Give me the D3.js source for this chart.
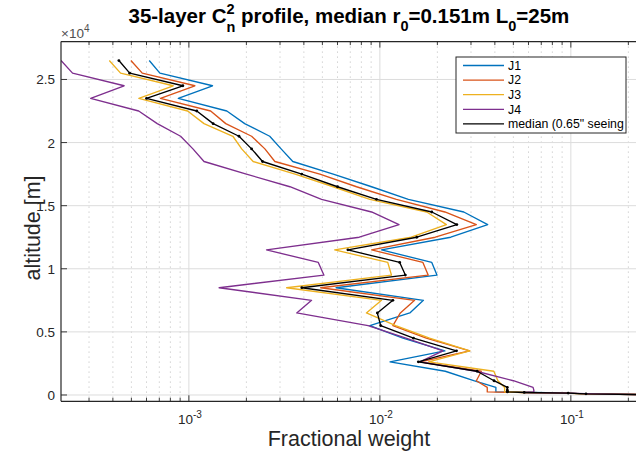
<!DOCTYPE html>
<html><head><meta charset="utf-8">
<script src="https://cdn.jsdelivr.net/npm/d3@7"></script>
<style>
body{margin:0;background:#fff}
svg{display:block}
text{font-family:"Liberation Sans",Arial,Helvetica,sans-serif;}
</style>
</head><body>
<svg id="chart" width="636" height="459"></svg>
<script>
// ---- data (altitude in m, fractional weight) ----
const altitudes = [30, 90, 150, 200, 245, 300, 390, 600, 1130, 1880, 2630, 3500, 4500, 5500, 6500, 7500, 8500, 9500, 10500, 11500, 12500, 13500, 14500, 15500, 16500, 17500, 18500, 19500, 20500, 21500, 22500, 23500, 24500, 25500, 26500];
const J1 = [0.226, 0.112, 0.101, 0.064, 0.0405, 0.0405, 0.0405, 0.0405, 0.031, 0.022, 0.0113, 0.0219, 0.0132, 0.00886, 0.01435, 0.0169, 0.0059, 0.0199, 0.0187, 0.0102, 0.0235, 0.0367, 0.0275, 0.0141, 0.00905, 0.0057, 0.0035, 0.00304, 0.00265, 0.00196, 0.00158, 0.00088, 0.00133, 0.000705, 0.00062];
const J2 = [0.251, 0.116, 0.0957, 0.0584, 0.0365, 0.0365, 0.0365, 0.0365, 0.032, 0.034, 0.0163, 0.0295, 0.0175, 0.0117, 0.0128, 0.0152, 0.0049, 0.0179, 0.0168, 0.00905, 0.0195, 0.032, 0.0219, 0.0122, 0.00755, 0.00485, 0.00282, 0.0025, 0.00213, 0.00156, 0.0013, 0.00071, 0.001075, 0.00057, 0.000497];
const J3 = [0.255, 0.119, 0.0932, 0.0557, 0.045, 0.045, 0.045, 0.045, 0.0415, 0.0395, 0.018, 0.0296, 0.0182, 0.0121, 0.0085, 0.0102, 0.00325, 0.0115, 0.011, 0.0058, 0.0146, 0.0223, 0.0176, 0.00886, 0.0057, 0.0036, 0.00217, 0.00189, 0.0017, 0.0012, 0.000985, 0.000547, 0.000828, 0.000439, 0.000383];
const J4 = [0.236, 0.131, 0.0981, 0.0577, 0.064, 0.064, 0.064, 0.0634, 0.05, 0.032, 0.0162, 0.0214, 0.0137, 0.00868, 0.00367, 0.00439, 0.00144, 0.00509, 0.00476, 0.00255, 0.0078, 0.0126, 0.00905, 0.00495, 0.00338, 0.002, 0.0012, 0.00105, 0.000905, 0.000683, 0.000546, 0.000306, 0.000458, 0.000246, 0.000214];
const median = [0.242, 0.120, 0.0968, 0.057, 0.0465, 0.0465, 0.0465, 0.0465, 0.0396, 0.0323, 0.0159, 0.0252, 0.0150, 0.0101, 0.0097, 0.0117, 0.0039, 0.0136, 0.0127, 0.0068, 0.0156, 0.0253, 0.0187, 0.0096, 0.0060, 0.0039, 0.00243, 0.00213, 0.00183, 0.00134, 0.00110, 0.00060, 0.00093, 0.00049, 0.00043];
const seriesNames = ["J1", "J2", "J3", "J4", "median (0.65\" seeing"];
const yTickValues = [0, 5000, 10000, 15000, 20000, 25000];
const yTickLabels = ["0", "0.5", "1", "1.5", "2", "2.5"];
const xMajorTicks = [1e-3, 1e-2, 1e-1];
const xTickExponents = ["-3", "-2", "-1"];
const xDomain = [0.000214, 0.255];
const yDomain = [-500, 28000];

const seriesValues = [J1, J2, J3, J4, median];
const colors = ["#0072BD", "#D95319", "#EDB120", "#7E2F8E", "#000000"];

// ---- layout ----
const L = 61, R = 648.5, T = 41.6, B = 401.3;
const svg = d3.select("#chart");
const x = d3.scaleLog().domain(xDomain).range([L, R]);
const y = d3.scaleLinear().domain(yDomain).range([B, T]);
const axisColor = "#262626";

svg.append("defs").append("clipPath").attr("id", "clip")
  .append("rect").attr("x", L).attr("y", T).attr("width", R - L).attr("height", B - T);

// grid
const allXTicks = x.ticks();
const isMajor = v => Math.abs(Math.log10(v) - Math.round(Math.log10(v))) < 1e-9;
const grid = svg.append("g");
grid.selectAll("line.minor").data(allXTicks.filter(v => !isMajor(v))).join("line")
  .attr("x1", d => x(d)).attr("x2", d => x(d)).attr("y1", T).attr("y2", B)
  .attr("stroke", "#b4b4b4").attr("stroke-width", 0.9).attr("stroke-dasharray", "1,4");
grid.selectAll("line.major").data(xMajorTicks).join("line")
  .attr("x1", d => x(d)).attr("x2", d => x(d)).attr("y1", T).attr("y2", B)
  .attr("stroke", "#dcdcdc").attr("stroke-width", 1);
grid.selectAll("line.ymaj").data(yTickValues).join("line")
  .attr("x1", L).attr("x2", R).attr("y1", d => y(d)).attr("y2", d => y(d))
  .attr("stroke", "#dcdcdc").attr("stroke-width", 1);

// lines
const plot = svg.append("g").attr("clip-path", "url(#clip)");
const line = d3.line().x(d => x(d[0])).y(d => y(d[1]));
seriesValues.forEach((vals, i) => {
  const pts = vals.map((v, k) => [v, altitudes[k]]);
  plot.append("path").datum(pts).attr("d", line)
    .attr("fill", "none").attr("stroke", colors[i]).attr("stroke-width", 1.35)
    .attr("stroke-linejoin", "round");
  if (i === 4) {
    plot.selectAll("circle.m").data(pts).join("circle")
      .attr("cx", d => x(d[0])).attr("cy", d => y(d[1])).attr("r", 1.4).attr("fill", "#000");
  }
});

// axes box
const ax = svg.append("g").attr("stroke", axisColor).attr("stroke-width", 1.2);
ax.append("line").attr("x1", L).attr("x2", R).attr("y1", B).attr("y2", B);
ax.append("line").attr("x1", L).attr("x2", R).attr("y1", T).attr("y2", T);
ax.append("line").attr("x1", L).attr("x2", L).attr("y1", T).attr("y2", B);
ax.append("line").attr("x1", R).attr("x2", R).attr("y1", T).attr("y2", B);
allXTicks.forEach(v => {
  const len = isMajor(v) ? 6 : 3.5;
  ax.append("line").attr("x1", x(v)).attr("x2", x(v)).attr("y1", B).attr("y2", B - len).attr("stroke-width", 0.9);
  ax.append("line").attr("x1", x(v)).attr("x2", x(v)).attr("y1", T).attr("y2", T + len).attr("stroke-width", 0.9);
});
yTickValues.forEach(v => {
  ax.append("line").attr("x1", L).attr("x2", L + 6).attr("y1", y(v)).attr("y2", y(v)).attr("stroke-width", 0.9);
});

// tick labels
const yl = svg.append("g").attr("fill", axisColor).attr("font-size", 13.5);
yTickValues.forEach((v, i) => {
  yl.append("text").attr("x", L - 6).attr("y", y(v) + 5).attr("text-anchor", "end").text(yTickLabels[i]);
});
const ex = yl.append("text").attr("x", L).attr("y", 38).attr("font-size", 13.5).attr("fill", "#505050");
ex.append("tspan").text("\u00d710");
ex.append("tspan").attr("dy", -6.5).attr("font-size", 10).text("4");

xMajorTicks.forEach((v, i) => {
  const t = yl.append("text").attr("y", 424).attr("font-size", 13.5);
  t.append("tspan").text("10");
  t.append("tspan").attr("dy", -6.5).attr("font-size", 10).text(xTickExponents[i]);
  const w = t.node().getComputedTextLength();
  t.attr("x", x(v) - w / 2 + 1);
});

// axis labels
svg.append("text").attr("x", 349).attr("y", 446).attr("text-anchor", "middle")
  .attr("font-size", 21.5).attr("fill", axisColor).text("Fractional weight");
svg.append("text").attr("transform", `translate(40,228) rotate(-90)`).attr("text-anchor", "middle")
  .attr("font-size", 21.5).attr("fill", axisColor).text("altitude [m]");

// title
const title = svg.append("text").attr("y", 23).attr("font-size", 20.5).attr("font-weight", "bold").attr("fill", "#000");
title.append("tspan").text("35-layer C");
title.append("tspan").attr("dy", -9).attr("font-size", 14.5).text("2");
title.append("tspan").attr("dy", 18).attr("dx", -8.2).attr("font-size", 14.5).text("n");
title.append("tspan").attr("dy", -9).text(" profile, median r");
title.append("tspan").attr("dy", 8).attr("font-size", 14.5).text("0");
title.append("tspan").attr("dy", -8).text("=0.151m L");
title.append("tspan").attr("dy", 8).attr("font-size", 14.5).text("0");
title.append("tspan").attr("dy", -8).text("=25m");
const tw = title.node().getComputedTextLength();
title.attr("x", 353 - tw / 2);

// legend
const lg = svg.append("g");
const lx = 456, ly = 57, lw = 170, lh = 76;
lg.append("rect").attr("x", lx).attr("y", ly).attr("width", lw).attr("height", lh)
  .attr("fill", "#fff").attr("stroke", axisColor).attr("stroke-width", 1);
seriesNames.forEach((n, i) => {
  const yy = ly + 8.5 + i * 14.6;
  lg.append("line").attr("x1", lx + 7).attr("x2", lx + 48).attr("y1", yy).attr("y2", yy)
    .attr("stroke", colors[i]).attr("stroke-width", 1.3);
  lg.append("text").attr("x", lx + 52).attr("y", yy + 4.3).attr("font-size", 12.3).attr("fill", "#000").text(n);
});
</script>
</body></html>
